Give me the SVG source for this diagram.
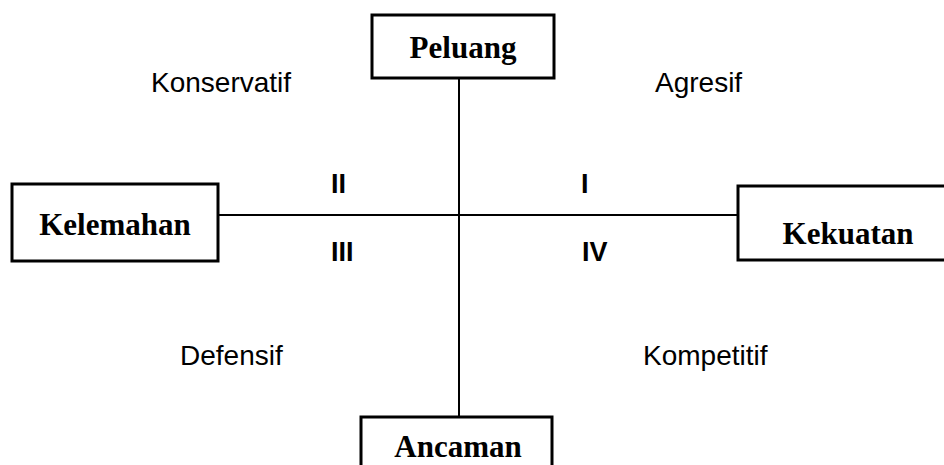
<svg xmlns="http://www.w3.org/2000/svg" width="944" height="465" viewBox="0 0 944 465">
<style>
.box{fill:#fff;stroke:#000;stroke-width:3}
.t{font-family:"Liberation Serif","Times New Roman",serif;font-weight:bold;font-size:31px;text-anchor:middle;fill:#000}
.l{font-family:"Liberation Sans",Arial,sans-serif;font-size:28px;fill:#000}
.n{font-family:"Liberation Sans",Arial,sans-serif;font-size:27px;font-weight:bold;fill:#000}
.c{stroke:#000;stroke-width:2;fill:none}
</style>
<rect width="944" height="465" fill="#fff"/>
<g id="connectors">
<line class="c" x1="459" y1="78" x2="459" y2="417"/>
<line class="c" x1="218" y1="215" x2="738" y2="215"/>
</g>
<g id="peluang"><rect class="box" x="372" y="15" width="182" height="63"/><text class="t" x="463" y="58">Peluang</text></g>
<g id="kelemahan"><rect class="box" x="12" y="184" width="206" height="77"/><text class="t" x="115" y="235">Kelemahan</text></g>
<g id="kekuatan"><rect class="box" x="738" y="186" width="220" height="74"/><text class="t" x="848" y="244">Kekuatan</text></g>
<g id="ancaman"><rect class="box" x="361" y="417" width="191" height="60"/><text class="t" x="458" y="457">Ancaman</text></g>
<g id="labels">
<text class="l" x="151" y="92">Konservatif</text>
<text class="l" x="655" y="92">Agresif</text>
<text class="l" x="180" y="365">Defensif</text>
<text class="l" x="643" y="365">Kompetitif</text>
<text class="n" x="331" y="193">II</text>
<text class="n" x="581" y="193">I</text>
<text class="n" x="331" y="261">III</text>
<text class="n" x="582" y="261">IV</text>
</g>
</svg>
